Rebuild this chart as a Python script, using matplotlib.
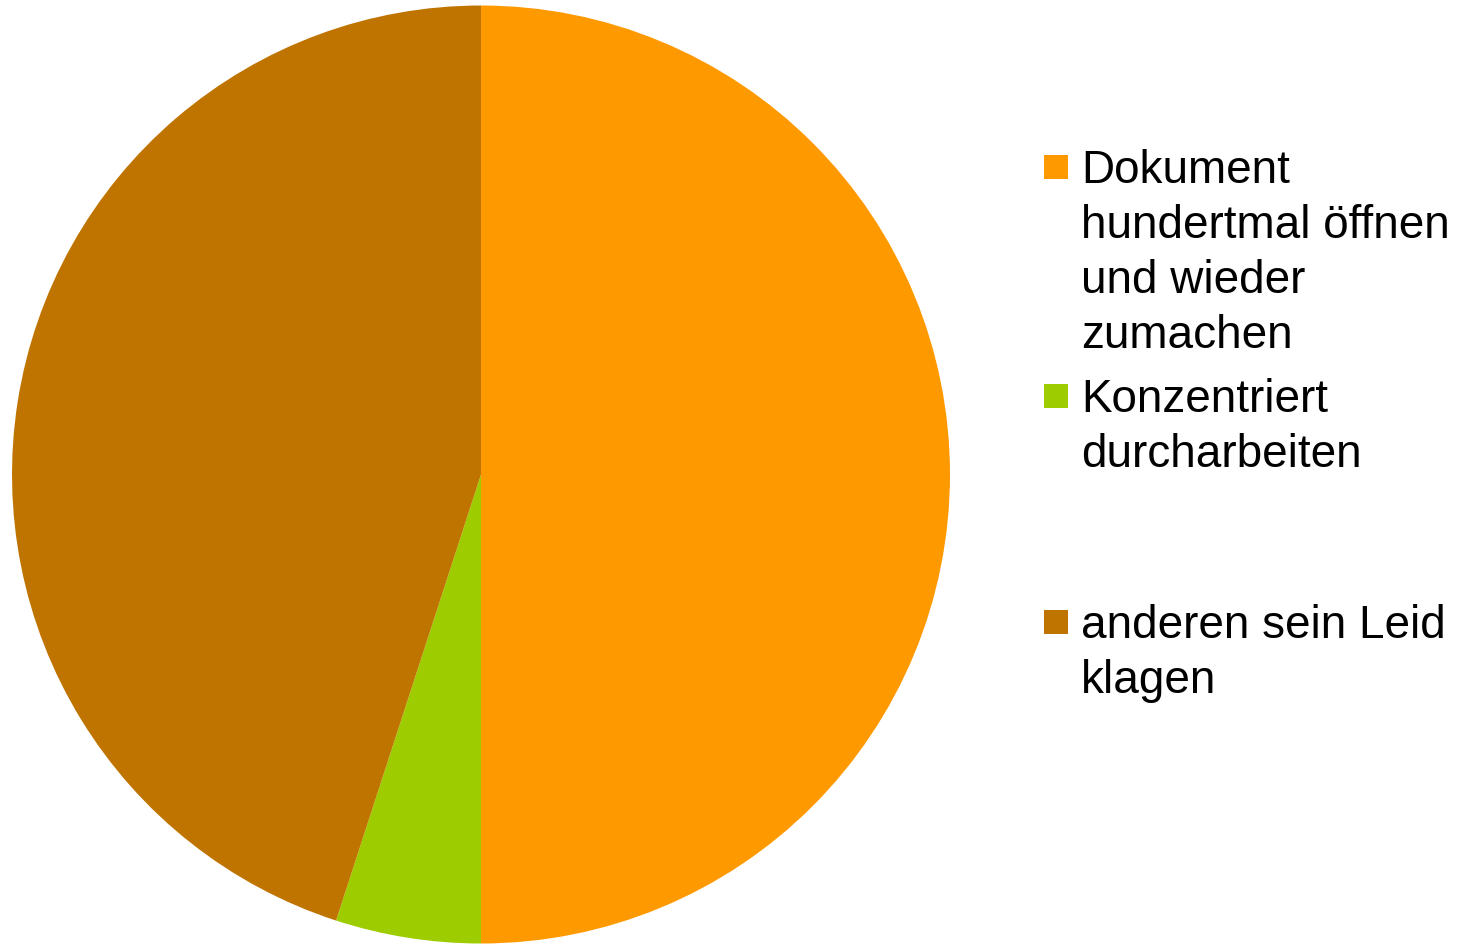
import matplotlib.pyplot as plt
from matplotlib.patches import Rectangle

labels = ["Dokument\nhundertmal öffnen\nund wieder\nzumachen",
          "Konzentriert\ndurcharbeiten",
          "anderen sein Leid\nklagen"]
values = [50, 5, 45]
colors = ['#FF9900', '#9DCC00', '#C07400']

W, H = 1483, 944
fig = plt.figure(figsize=(W / 100, H / 100), dpi=100)
plt.rcParams['font.family'] = ['Liberation Sans', 'DejaVu Sans']

# pie: center (481, 474.5) px, radius 469 px
cx, cy, r = 481, 474.5, 469
ax = fig.add_axes([(cx - r) / W, (H - cy - r) / H, 2 * r / W, 2 * r / H])
ax.pie(values, colors=colors, startangle=90, counterclock=False,
       wedgeprops=dict(linewidth=0))
ax.set_xlim(-1, 1)
ax.set_ylim(-1, 1)
ax.axis('off')

# legend drawn by hand, entries are not evenly spaced in the original
first_base = [183, 412, 638]   # baseline of first line, px from top
line_h = 55
for lab, col, by in zip(labels, colors, first_base):
    n = lab.count('\n')
    fig.patches.append(Rectangle((1044 / W, 1 - (by - 4) / H), 24 / W, 24 / H,
                                 transform=fig.transFigure, facecolor=col,
                                 edgecolor='none'))
    # multi-line baseline alignment uses the last line
    fig.text(1081 / W, 1 - (by + n * line_h) / H, lab, fontsize=33,
             va='baseline', ha='left', linespacing=1.32, color='black')

fig.savefig('out.png', dpi=100)
